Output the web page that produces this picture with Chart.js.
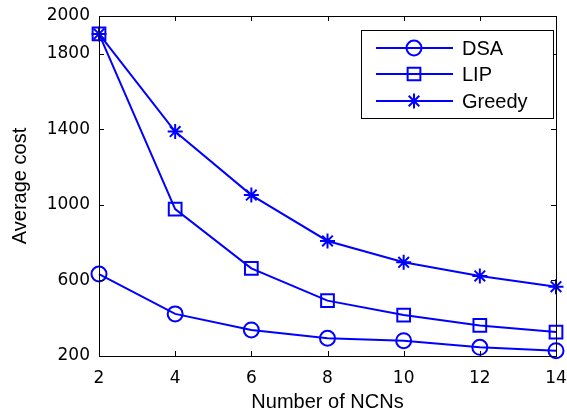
<!DOCTYPE html>
<html>
<head>
<meta charset="utf-8">
<script src="https://cdn.jsdelivr.net/npm/chart.js@4"></script>
<style>
  html, body { margin: 0; padding: 0; background: #fff; }
  #wrap { width: 567px; height: 415px; }
</style>
</head>
<body>
<div id="wrap"><canvas id="chart" width="567" height="415"></canvas></div>
<script>
// data
const ncns = [2, 4, 6, 8, 10, 12, 14];
const dsa = [634, 423, 338, 294, 281, 246, 228];
const lip = [1905, 978, 664, 493, 417, 362, 327];
const greedy = [1905, 1388, 1052, 809, 696, 624, 567];
const yTicks = [200, 600, 1000, 1400, 1800, 2000];
const xTicks = [2, 4, 6, 8, 10, 12, 14];

const BLUE = '#0000ff';
const tickFont = { family: 'DejaVu Sans', size: 17 };
const textFont = { family: 'Liberation Sans', size: 20 };

function pts(ys) {
    return ncns.map((x, i) => ({ x: x, y: ys[i] }));
}

function series(label, ys, style, radius) {
    return {
        label: label,
        data: pts(ys),
        borderColor: BLUE,
        backgroundColor: 'rgba(0,0,0,0)',
        borderWidth: 2,
        pointStyle: style,
        pointRadius: radius,
        pointBorderColor: BLUE,
        pointBorderWidth: 2,
        pointBackgroundColor: 'rgba(0,0,0,0)',
        tension: 0,
        clip: false
    };
}

// matlab style box, inward ticks and legend
const boxPlugin = {
    id: 'box',
    afterDatasetsDraw(chart) {
        const ctx = chart.ctx;
        const a = chart.chartArea;
        const xs = chart.scales.x, ys = chart.scales.y;
        ctx.save();
        ctx.strokeStyle = '#000';
        ctx.lineWidth = 1;
        ctx.strokeRect(a.left + 0.5, a.top + 0.5, a.right - a.left, a.bottom - a.top);
        ctx.beginPath();
        xTicks.forEach(v => {
            const px = Math.round(xs.getPixelForValue(v)) + 0.5;
            ctx.moveTo(px, a.bottom); ctx.lineTo(px, a.bottom - 5);
            ctx.moveTo(px, a.top); ctx.lineTo(px, a.top + 5);
        });
        yTicks.forEach(v => {
            const py = Math.round(ys.getPixelForValue(v)) + 0.5;
            ctx.moveTo(a.left, py); ctx.lineTo(a.left + 5, py);
            ctx.moveTo(a.right, py); ctx.lineTo(a.right - 5, py);
        });
        ctx.stroke();

        // legend
        const bx = 361, by = 30, bw = 192, bh = 88;
        ctx.fillStyle = '#fff';
        ctx.fillRect(bx, by, bw, bh);
        ctx.strokeRect(bx + 0.5, by + 0.5, bw, bh);
        const rows = [48, 74, 101];
        chart.data.datasets.forEach((ds, i) => {
            const y = rows[i];
            ctx.strokeStyle = BLUE;
            ctx.lineWidth = 2;
            ctx.beginPath();
            ctx.moveTo(376, y); ctx.lineTo(453, y);
            ctx.stroke();
            ctx.fillStyle = 'rgba(0,0,0,0)';
            Chart.helpers.drawPoint(ctx, {
                pointStyle: ds.pointStyle,
                radius: ds.pointRadius,
                borderWidth: 2,
                rotation: 0
            }, 414, y);
            ctx.fillStyle = '#000';
            ctx.font = textFont.size + 'px "' + textFont.family + '"';
            ctx.textBaseline = 'middle';
            ctx.textAlign = 'left';
            ctx.fillText(ds.label, 462, y + 1);
        });
        ctx.restore();
    }
};

new Chart(document.getElementById('chart'), {
    type: 'line',
    data: {
        datasets: [
            series('DSA', dsa, 'circle', 7.5),
            series('LIP', lip, 'rect', 9),
            series('Greedy', greedy, 'star', 7.5)
        ]
    },
    options: {
        responsive: false,
        animation: false,
        layout: { padding: { top: 16, right: 10, left: 0, bottom: 0 } },
        plugins: { legend: { display: false }, tooltip: { enabled: false } },
        scales: {
            x: {
                type: 'linear',
                min: 2,
                max: 14,
                grid: { display: false, drawTicks: false },
                border: { color: '#000', width: 1 },
                ticks: { color: '#000', font: tickFont, padding: 12, maxRotation: 0, callback: v => String(v) },
                afterBuildTicks: s => { s.ticks = xTicks.map(v => ({ value: v })); },
                afterFit: s => { s.height = 59; s.paddingLeft = 0; s.paddingRight = 0; },
                title: { display: true, text: 'Number of NCNs', color: '#000', font: textFont, padding: { top: 0, bottom: 1 } }
            },
            y: {
                min: 200,
                max: 2000,
                grid: { display: false, drawTicks: false },
                border: { color: '#000', width: 1 },
                ticks: { color: '#000', font: tickFont, padding: 9, callback: v => String(v) },
                afterBuildTicks: s => { s.ticks = yTicks.map(v => ({ value: v })); },
                afterFit: s => { s.width = 99; s.paddingTop = 0; s.paddingBottom = 0; },
                title: { display: true, text: 'Average cost', color: '#000', font: textFont, padding: { top: 8, bottom: 0 } }
            }
        }
    },
    plugins: [boxPlugin]
});
</script>
</body>
</html>
